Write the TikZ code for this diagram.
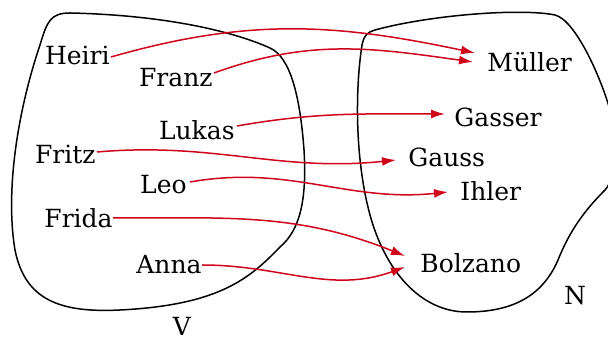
\documentclass[tikz,border=0pt]{standalone}
\usepackage{fontspec}
\setmainfont{DejaVu Serif}
\usetikzlibrary{arrows.meta,calc}
\definecolor{crimson}{RGB}{208,2,27}

\begin{document}
\begin{tikzpicture}[x=0.5pt,y=0.5pt,
  elem/.style={inner sep=0pt,font=\fontsize{12.5}{15}\selectfont},
  map/.style={crimson,line width=0.75pt,-{Latex[length=7pt,width=4.5pt]}},
  blob/.style={line width=0.75pt}]
  \useasboundingbox (0,0) rectangle (608,340);
  % the two sets
  \draw[blob] (70,327) .. controls (160,325) and (230,310) .. (270,292)
    .. controls (290,283) and (300,245) .. (304,190)
    .. controls (307,140) and (300,110) .. (280,93)
    .. controls (250,62) and (220,35) .. (120,30)
    .. controls (60,27) and (25,40) .. (15,90)
    .. controls (5,150) and (18,230) .. (40,295)
    .. controls (47,318) and (50,327) .. (70,327) -- cycle;
  \draw[blob] (375,310) .. controls (430,325) and (520,332) .. (555,325)
    .. controls (575,320) and (600,265) .. (610,230)
    .. controls (618,200) and (618,165) .. (605,150)
    .. controls (585,130) and (570,110) .. (558,80)
    .. controls (545,50) and (520,28) .. (467,28)
    .. controls (420,28) and (385,70) .. (370,125)
    .. controls (355,180) and (355,250) .. (362,295)
    .. controls (364,305) and (368,308) .. (375,310) -- cycle;
  \node[elem] (V) at (182,14) {V};
  \node[elem] (N) at (575,44) {N};
  % domain
  \node[elem,anchor=east] (heiri) at (110,285) {Heiri};
  \node[elem,anchor=east] (franz) at (213,262) {Franz};
  \node[elem,anchor=east] (lukas) at (235,210) {Lukas};
  \node[elem,anchor=east] (fritz) at (96,186) {Fritz};
  \node[elem,anchor=east] (leo) at (187,155) {Leo};
  \node[elem,anchor=east] (frida) at (113,122) {Frida};
  \node[elem,anchor=east] (anna) at (202,75) {Anna};
  % codomain
  \node[elem,anchor=west] (mueller) at (487,278) {Müller};
  \node[elem,anchor=west] (gasser) at (454,223) {Gasser};
  \node[elem,anchor=west] (gauss) at (408,183) {Gauss};
  \node[elem,anchor=west] (ihler) at (460,149) {Ihler};
  \node[elem,anchor=west] (bolzano) at (420,77) {Bolzano};
  % mapping
  \draw[map] ($(heiri.east)+(1,-2)$) to[out=16,in=168] ($(mueller.west)+(-12,9)$);
  \draw[map] ($(franz.east)+(1,5)$) to[out=20,in=172] ($(mueller.west)+(-14,0)$);
  \draw[map] ($(lukas.east)+(2,4)$) to[out=10,in=180] ($(gasser.west)+(-9,3)$);
  \draw[map] ($(fritz.east)+(1,2)$) to[out=5,in=186] ($(gauss.west)+(-12,-3)$);
  \draw[map] ($(leo.east)+(3,3)$) to[out=10,in=186] ($(ihler.west)+(-12,-1)$);
  \draw[map] (frida.east) to[out=0,in=158] ($(bolzano.west)+(-15,7)$);
  \draw[map] (anna.east) to[out=0,in=200] ($(bolzano.west)+(-15,-4)$);
\end{tikzpicture}
\end{document}
